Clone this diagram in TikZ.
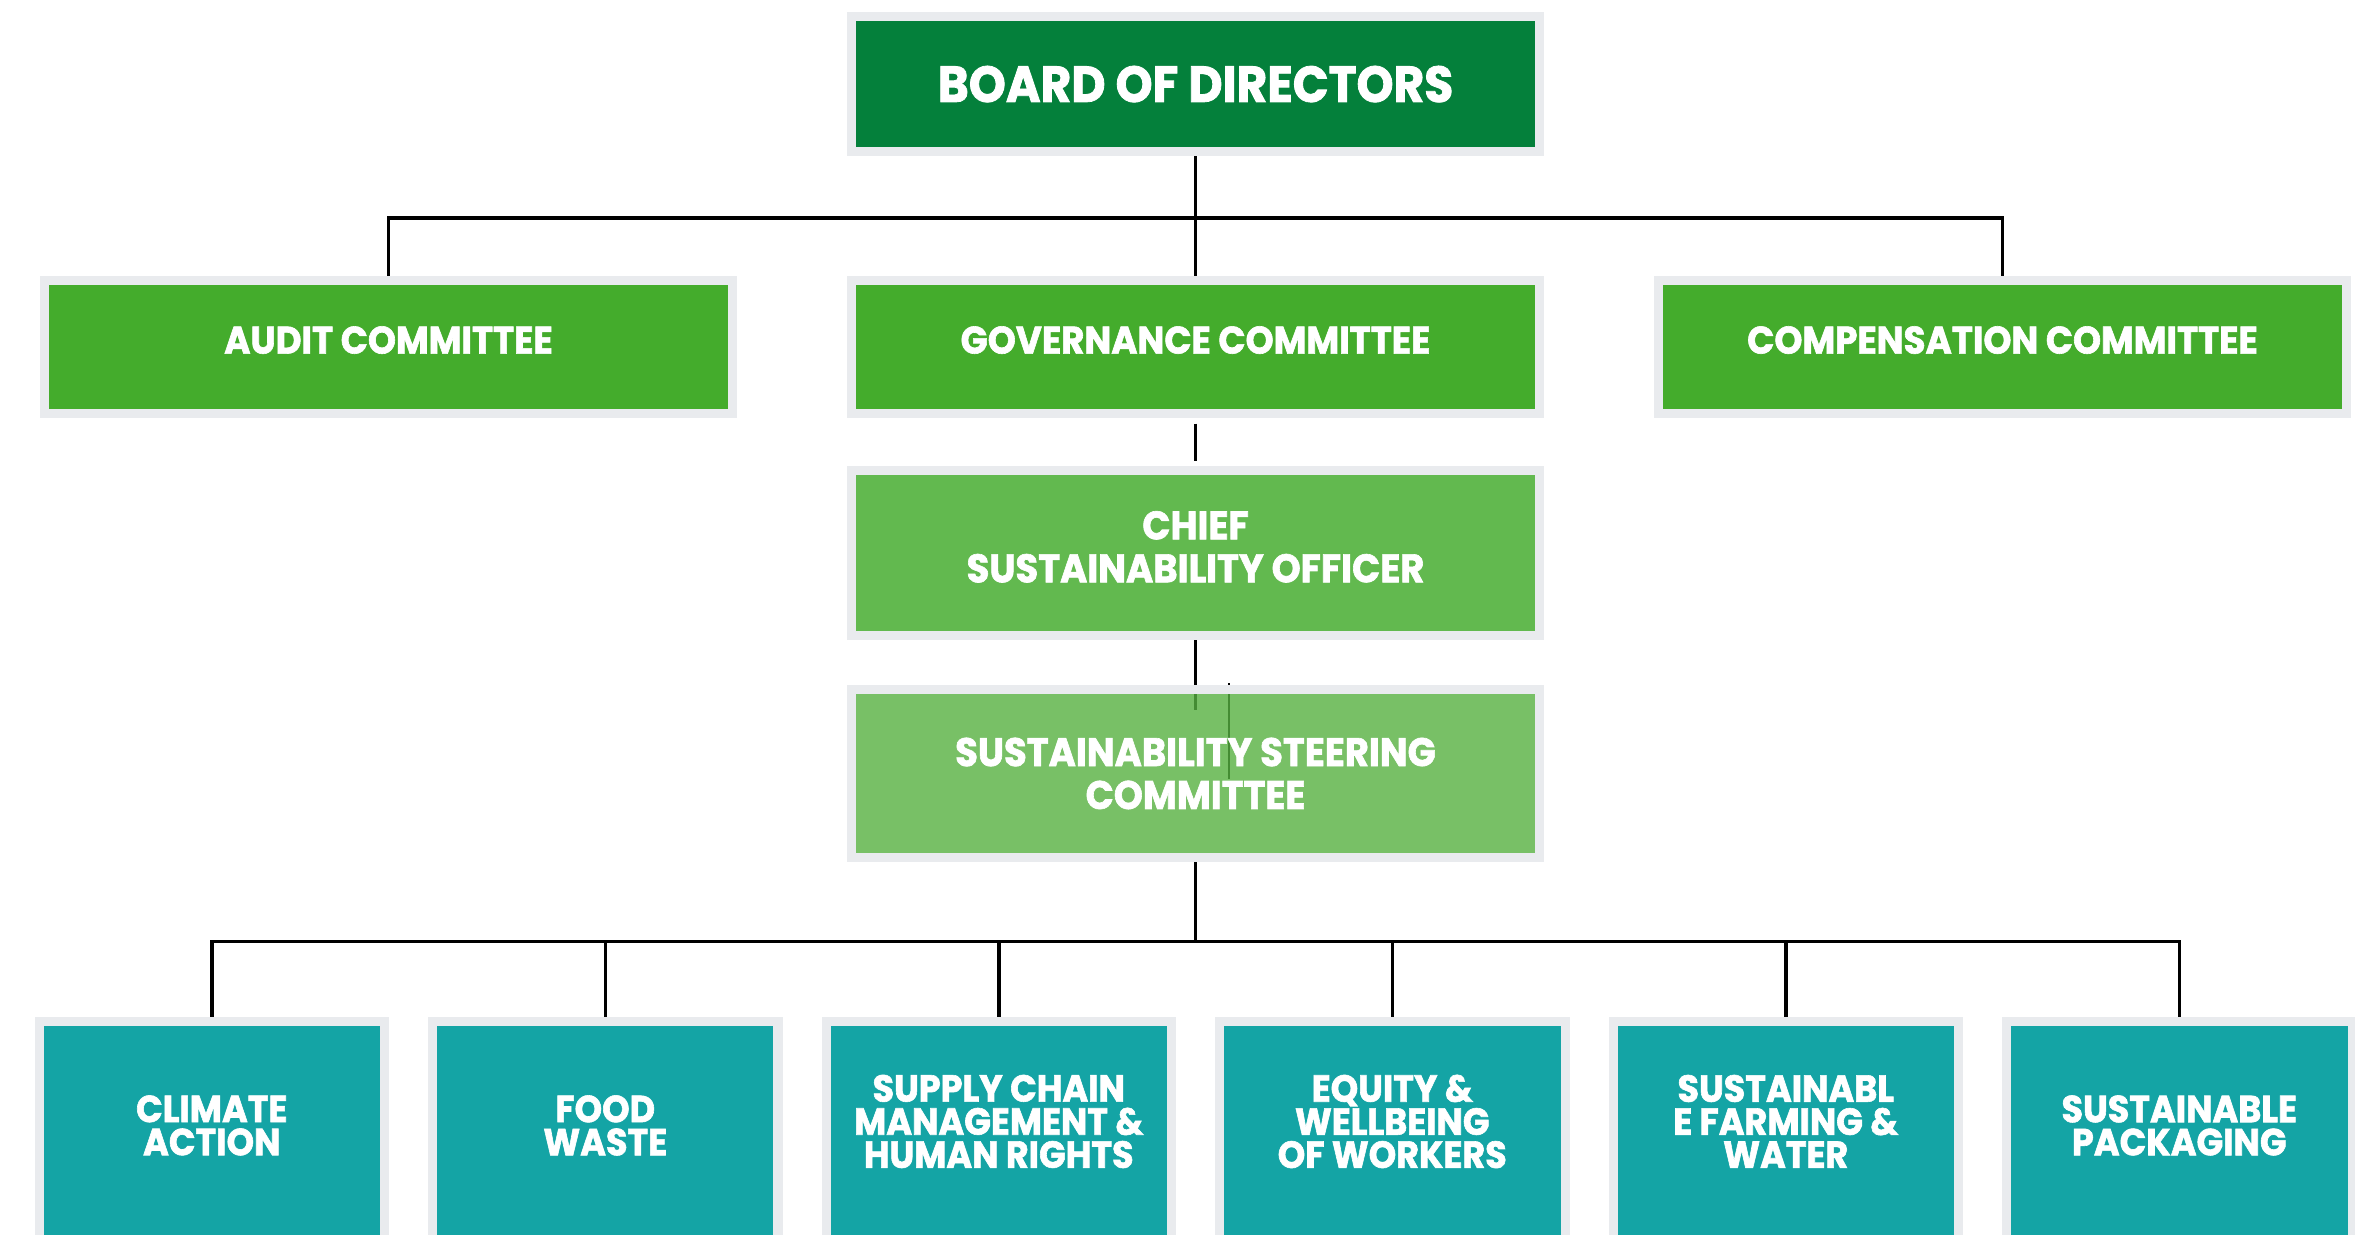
\documentclass[tikz,border=0pt]{standalone}
\usepackage{fontspec}
\setmainfont{Poppins}[FakeStretch=0.93, BoldFeatures={FakeBold=1.6}]
\usepackage{tikz}
\usetikzlibrary{positioning,backgrounds}
\definecolor{board}{HTML}{04803B}
\definecolor{committee}{HTML}{44AC2C}
\definecolor{officer}{HTML}{62B94F}
\definecolor{steering}{HTML}{56B040}
\definecolor{team}{HTML}{14A4A5}
\definecolor{frame}{HTML}{E9EBEE}

\begin{document}
\begin{tikzpicture}[
  font=\bfseries,
  node distance=5mm and 11.9mm,
  box/.style={draw=frame, line width=0.9mm, outer sep=0pt, inner sep=2pt, align=center, text=white},
  top/.style={box, fill=board, minimum width=68.7mm, minimum height=13.5mm, font=\bfseries\fontsize{14.4}{16}\selectfont},
  cmte/.style={box, fill=committee, minimum width=68.7mm, minimum height=13.2mm, text depth=1.4mm, font=\bfseries\fontsize{10.9}{12}\selectfont},
  lead/.style={box, minimum width=68.7mm, font=\bfseries\fontsize{11.3}{12.2}\selectfont},
  team/.style={box, fill=team, minimum width=34.5mm, minimum height=24mm},
  teamtext/.style={anchor=center, yshift=-10mm, align=center, text=white, font=\bfseries\fontsize{10.7}{9.4}\selectfont},
  link/.style={line width=1pt, black},
]
\path[use as bounding box] (0,0) rectangle (235.2mm,-123.3mm);
\clip (0,0) rectangle (235.2mm,-123.3mm);

% board and its committees
\node[top] (board) at (119.4mm,-8.4mm) {BOARD OF DIRECTORS};
\node[cmte, below=12.9mm of board] (gov) {GOVERNANCE COMMITTEE};
\node[cmte, left=of gov] (audit) {AUDIT COMMITTEE};
\node[cmte, right=of gov] (comp) {COMPENSATION COMMITTEE};

% sustainability leadership
\node[lead, fill=officer, minimum height=16.5mm, text depth=1.2mm, below=5.7mm of gov] (cso) {CHIEF\\SUSTAINABILITY OFFICER};
\node[lead, fill=steering, fill opacity=0.8, text opacity=1, minimum height=16.8mm, below=5.4mm of cso] (ssc) {SUSTAINABILITY STEERING\\COMMITTEE};

% working groups
\node[team, below=16.35mm of ssc, xshift=-19.65mm, label={[teamtext]north:{SUPPLY CHAIN\\MANAGEMENT \&\\HUMAN RIGHTS}}] (supply) {};
\node[team, left=4.8mm of supply, label={[teamtext, yshift=-0.4mm]north:{FOOD\\WASTE}}] (food) {};
\node[team, left=4.8mm of food, label={[teamtext, yshift=-0.4mm]north:{CLIMATE\\ACTION}}] (climate) {};
\node[team, right=4.8mm of supply, label={[teamtext]north:{EQUITY \&\\WELLBEING\\OF WORKERS}}] (equity) {};
\node[team, right=4.8mm of equity, label={[teamtext]north:{SUSTAINABL\\E FARMING \&\\WATER}}] (farming) {};
\node[team, right=4.8mm of farming, label={[teamtext, yshift=-0.4mm]north:{SUSTAINABLE\\PACKAGING}}] (packaging) {};

\coordinate (bus1) at ([yshift=-6.6mm]board.south);
\coordinate (bus2) at ([yshift=-8.4mm]ssc.south);
\coordinate (sscin) at ([yshift=-2.1mm]ssc.north);
\coordinate (tickA) at ([xshift=3.3mm,yshift=0.6mm]ssc.north);
\coordinate (tickB) at ([xshift=3.3mm,yshift=-9mm]ssc.north);

% reporting lines
\begin{scope}[on background layer]
  \draw[link] (board.south) -- (gov.north);
  \draw[link] (audit.north) |- (bus1) -| (comp.north);
  \draw[link, shorten <=1.05mm, shorten >=0.9mm] (gov.south) -- (cso.north);
  \draw[link] (cso.south) -- (sscin);
  \draw[link, line width=0.6pt] (tickA) -- (tickB);
  \draw[link] (ssc.south) -- (bus2);
  \draw[link] (climate.north) |- (bus2) -| (packaging.north);
  \draw[link] (food.north) -- (food.north |- bus2);
  \draw[link] (supply.north) -- (supply.north |- bus2);
  \draw[link] (equity.north) -- (equity.north |- bus2);
  \draw[link] (farming.north) -- (farming.north |- bus2);
\end{scope}

\end{tikzpicture}
\end{document}
